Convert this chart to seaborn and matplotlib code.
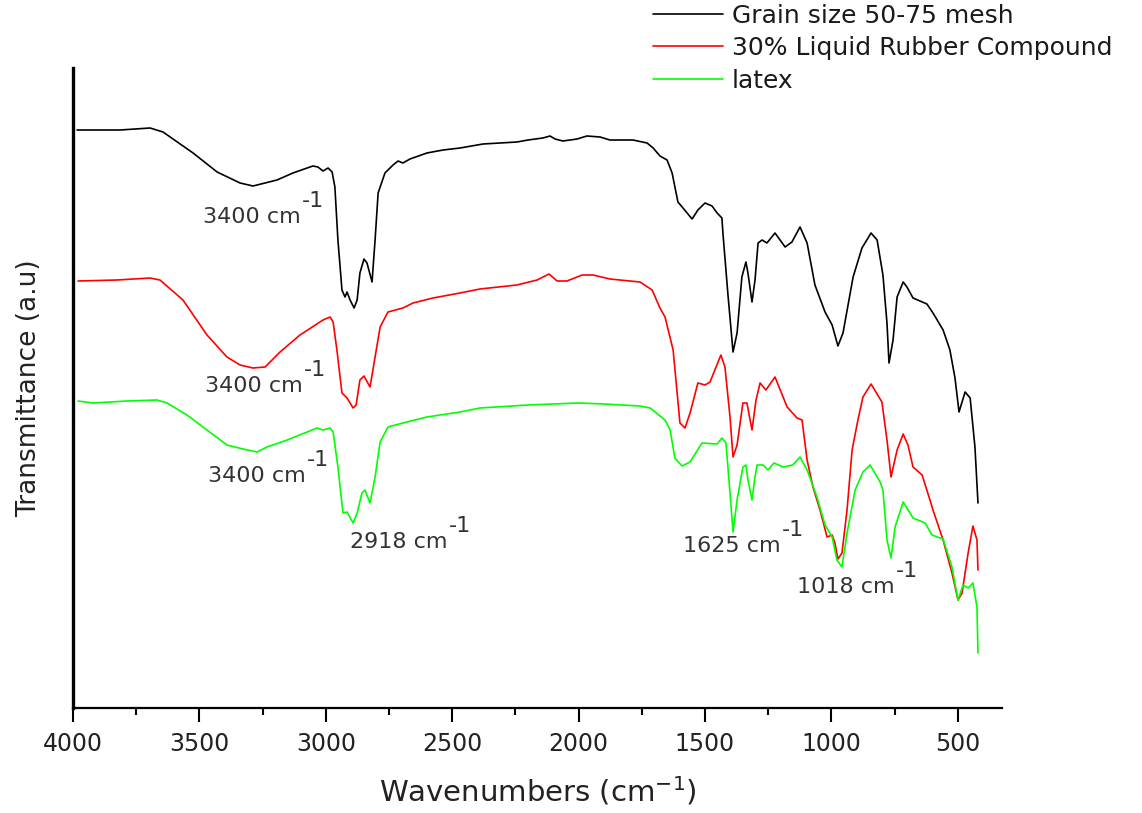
import numpy as np
import pandas as pd
import matplotlib
matplotlib.use("Agg")
import matplotlib.pyplot as plt
import seaborn as sns

# ---------------- data (wavenumber cm^-1, transmittance a.u.) ----------------
grain_wn = [3984, 3814, 3695, 3644, 3525, 3430, 3339, 3288, 3193, 3130, 3051, 3031, 3011, 2991,
            2975, 2964, 2952, 2936, 2924, 2916, 2904, 2888, 2876, 2865, 2849, 2837, 2817, 2805,
            2793, 2766, 2734, 2714, 2695, 2667, 2600, 2536, 2469, 2378, 2244, 2200, 2141, 2113,
            2093, 2062, 2006, 1967, 1915, 1876, 1785, 1729, 1705, 1678, 1650, 1630, 1607, 1587,
            1551, 1528, 1500, 1472, 1452, 1433, 1429, 1409, 1389, 1373, 1354, 1338, 1330, 1314,
            1302, 1290, 1274, 1255, 1223, 1183, 1156, 1124, 1096, 1065, 1025, 997, 974, 954,
            914, 879, 843, 819, 796, 780, 772, 756, 740, 716, 701, 677, 622, 598, 558, 531,
            511, 495, 471, 451, 432, 420]
grain_t = [57.8, 57.8, 58.0, 57.6, 55.5, 53.6, 52.5, 52.2, 52.8, 53.5, 54.2, 54.1, 53.7, 54.0,
           53.6, 52.1, 46.8, 41.8, 41.1, 41.6, 40.8, 40.0, 40.8, 43.5, 44.9, 44.5, 42.6, 46.8,
           51.5, 53.5, 54.3, 54.7, 54.5, 54.9, 55.5, 55.8, 56.0, 56.4, 56.6, 56.8, 57.0, 57.2,
           56.9, 56.7, 56.9, 57.2, 57.1, 56.8, 56.8, 56.5, 56.0, 55.2, 54.8, 53.5, 50.6, 50.0,
           48.9, 49.8, 50.5, 50.2, 49.5, 49.0, 47.5, 41.3, 35.6, 37.5, 43.1, 44.6, 43.5, 40.6,
           42.8, 46.5, 46.8, 46.5, 47.5, 46.1, 46.6, 48.1, 46.5, 42.3, 39.6, 38.3, 36.2, 37.5,
           43.1, 46.0, 47.5, 46.8, 43.3, 38.5, 34.5, 36.8, 41.1, 42.6, 42.1, 41.0, 40.4, 39.5,
           37.8, 35.8, 33.0, 29.6, 31.6, 31.0, 26.1, 20.5]

rubber_wn = [3980, 3826, 3695, 3656, 3565, 3470, 3391, 3339, 3288, 3240, 3181, 3102, 3011, 2983,
             2971, 2956, 2936, 2916, 2892, 2880, 2865, 2849, 2825, 2805, 2785, 2754, 2695, 2655,
             2576, 2469, 2390, 2244, 2164, 2117, 2085, 2046, 1986, 1943, 1876, 1757, 1709, 1678,
             1658, 1626, 1599, 1579, 1559, 1528, 1500, 1480, 1437, 1421, 1401, 1389, 1373, 1350,
             1334, 1314, 1298, 1282, 1259, 1223, 1175, 1136, 1116, 1096, 1073, 1045, 1017, 997,
             986, 974, 958, 938, 918, 895, 875, 843, 800, 780, 764, 740, 716, 697, 677, 641,
             610, 598, 558, 523, 499, 483, 459, 440, 424, 420]
rubber_t = [42.7, 42.8, 43.0, 42.8, 40.8, 37.3, 35.1, 34.3, 34.0, 34.1, 35.6, 37.3, 38.8, 39.1,
            38.6, 35.8, 31.5, 31.0, 30.0, 30.3, 32.8, 33.2, 32.1, 35.1, 38.1, 39.6, 40.0, 40.5,
            41.0, 41.5, 41.9, 42.3, 42.8, 43.4, 42.7, 42.7, 43.3, 43.3, 42.9, 42.6, 41.8, 40.0,
            39.1, 35.8, 28.5, 28.0, 29.5, 32.5, 32.3, 32.6, 35.3, 34.1, 29.1, 25.1, 26.3, 30.5,
            30.5, 27.8, 30.8, 32.5, 31.8, 33.1, 30.1, 29.0, 28.8, 24.8, 22.1, 19.8, 17.1, 17.3,
            16.5, 14.9, 15.5, 19.8, 25.8, 28.8, 31.1, 32.4, 30.6, 26.8, 23.1, 25.8, 27.4, 26.3,
            24.1, 23.3, 20.8, 19.8, 16.8, 13.5, 10.8, 11.5, 15.5, 18.2, 16.8, 13.8]

latex_wn = [3980, 3921, 3786, 3668, 3628, 3549, 3486, 3391, 3327, 3272, 3233, 3153, 3074, 3035,
            3011, 2983, 2971, 2952, 2932, 2916, 2892, 2876, 2857, 2845, 2825, 2805, 2785, 2754,
            2695, 2600, 2469, 2390, 2200, 2000, 1900, 1757, 1717, 1658, 1638, 1619, 1591, 1559,
            1512, 1452, 1433, 1417, 1401, 1389, 1373, 1350, 1338, 1330, 1314, 1302, 1294, 1270,
            1251, 1227, 1191, 1152, 1124, 1096, 1057, 1025, 997, 978, 958, 938, 906, 875, 847,
            807, 796, 780, 764, 748, 716, 677, 629, 602, 558, 523, 499, 479, 459, 440, 424, 420]
latex_t = [30.7, 30.5, 30.7, 30.8, 30.5, 29.3, 28.1, 26.3, 25.9, 25.6, 26.1, 26.8, 27.6, 28.0,
           27.8, 28.0, 27.6, 24.1, 19.5, 19.6, 18.5, 19.5, 21.5, 21.8, 20.5, 23.1, 26.6, 28.1,
           28.5, 29.1, 29.6, 30.0, 30.3, 30.5, 30.4, 30.2, 30.0, 28.8, 27.8, 25.0, 24.2, 24.6,
           26.5, 26.4, 27.0, 26.5, 21.5, 17.6, 20.8, 24.1, 24.3, 22.8, 20.8, 23.1, 24.3, 24.3,
           23.8, 24.5, 24.1, 24.3, 25.1, 23.8, 21.1, 18.3, 17.1, 14.8, 14.1, 17.5, 21.8, 23.6,
           24.3, 22.6, 21.8, 16.8, 15.0, 18.1, 20.6, 19.0, 18.5, 17.3, 16.9, 14.1, 10.8, 12.3,
           12.0, 12.5, 10.1, 5.5]

labels = ["Grain size 50-75 mesh", "30% Liquid Rubber Compound", "latex"]
colors = ["#000000", "#ff0000", "#00ff00"]

ann_texts = ["3400 cm", "3400 cm", "3400 cm", "2918 cm", "1625 cm", "1018 cm"]
ann_wn = [3486, 3478, 3466, 2904, 1587, 1136]
ann_t = [48.5, 31.6, 22.6, 16.0, 15.6, 11.5]

# ---------------- build frame ----------------
df = pd.concat([
    pd.DataFrame({"wn": grain_wn, "t": grain_t, "sample": labels[0]}),
    pd.DataFrame({"wn": rubber_wn, "t": rubber_t, "sample": labels[1]}),
    pd.DataFrame({"wn": latex_wn, "t": latex_t, "sample": labels[2]}),
], ignore_index=True)

sns.set_theme(style="white")
plt.rcParams["font.family"] = ["DejaVu Sans"]

fig = plt.figure(figsize=(11.42, 8.13), dpi=100)
ax = fig.add_axes([73 / 1142, 1 - 708 / 813, (1002 - 73) / 1142, (708 - 68) / 813])

sns.lineplot(data=df, x="wn", y="t", hue="sample", hue_order=labels,
             palette=dict(zip(labels, colors)), estimator=None, sort=False,
             linewidth=1.2, ax=ax)

ax.set_xlim(4000, 325)
ax.set_ylim(0, 64)
ax.set_xticks(np.arange(4000, 499, -500))
ax.set_xticks(np.arange(3750, 300, -500), minor=True)
ax.set_yticks([])

for s in ["top", "right"]:
    ax.spines[s].set_visible(False)
ax.spines["left"].set_linewidth(2.4)
ax.spines["bottom"].set_linewidth(1.6)
ax.spines["left"].set_color("black")
ax.spines["bottom"].set_color("black")

ax.tick_params(axis="x", which="major", direction="out", length=10, width=1.5,
               bottom=True, labelsize=17, pad=7, colors="black")
ax.tick_params(axis="x", which="minor", direction="out", length=5, width=1.5,
               bottom=True, colors="black")
for lbl in ax.get_xticklabels():
    lbl.set_color("#222222")

ax.set_xlabel("Wavenumbers (cm$^{-1}$)", fontsize=21, labelpad=14, color="#222222")
ax.set_ylabel("Transmittance (a.u)", fontsize=19, labelpad=22, color="#222222")

# annotations
for txt, x, y in zip(ann_texts, ann_wn, ann_t):
    t = ax.text(x, y, txt, fontsize=16, ha="left", va="baseline", color="#333333")
    ax.annotate("-1", xy=(1, 1), xycoords=t, xytext=(1, -3), textcoords="offset points",
                fontsize=16, ha="left", va="bottom", color="#333333")

# legend
handles, lbls = ax.get_legend_handles_labels()
ax.get_legend().remove()
leg = fig.legend(handles, lbls, loc="upper left", bbox_to_anchor=(653 / 1142, 1 - 4 / 813),
                 frameon=False, fontsize=18, handlelength=2.8, handletextpad=0.35,
                 labelspacing=0.33, borderpad=0, borderaxespad=0)
for t in leg.get_texts():
    t.set_color("#1a1a1a")

fig.savefig("out.png", dpi=100)
